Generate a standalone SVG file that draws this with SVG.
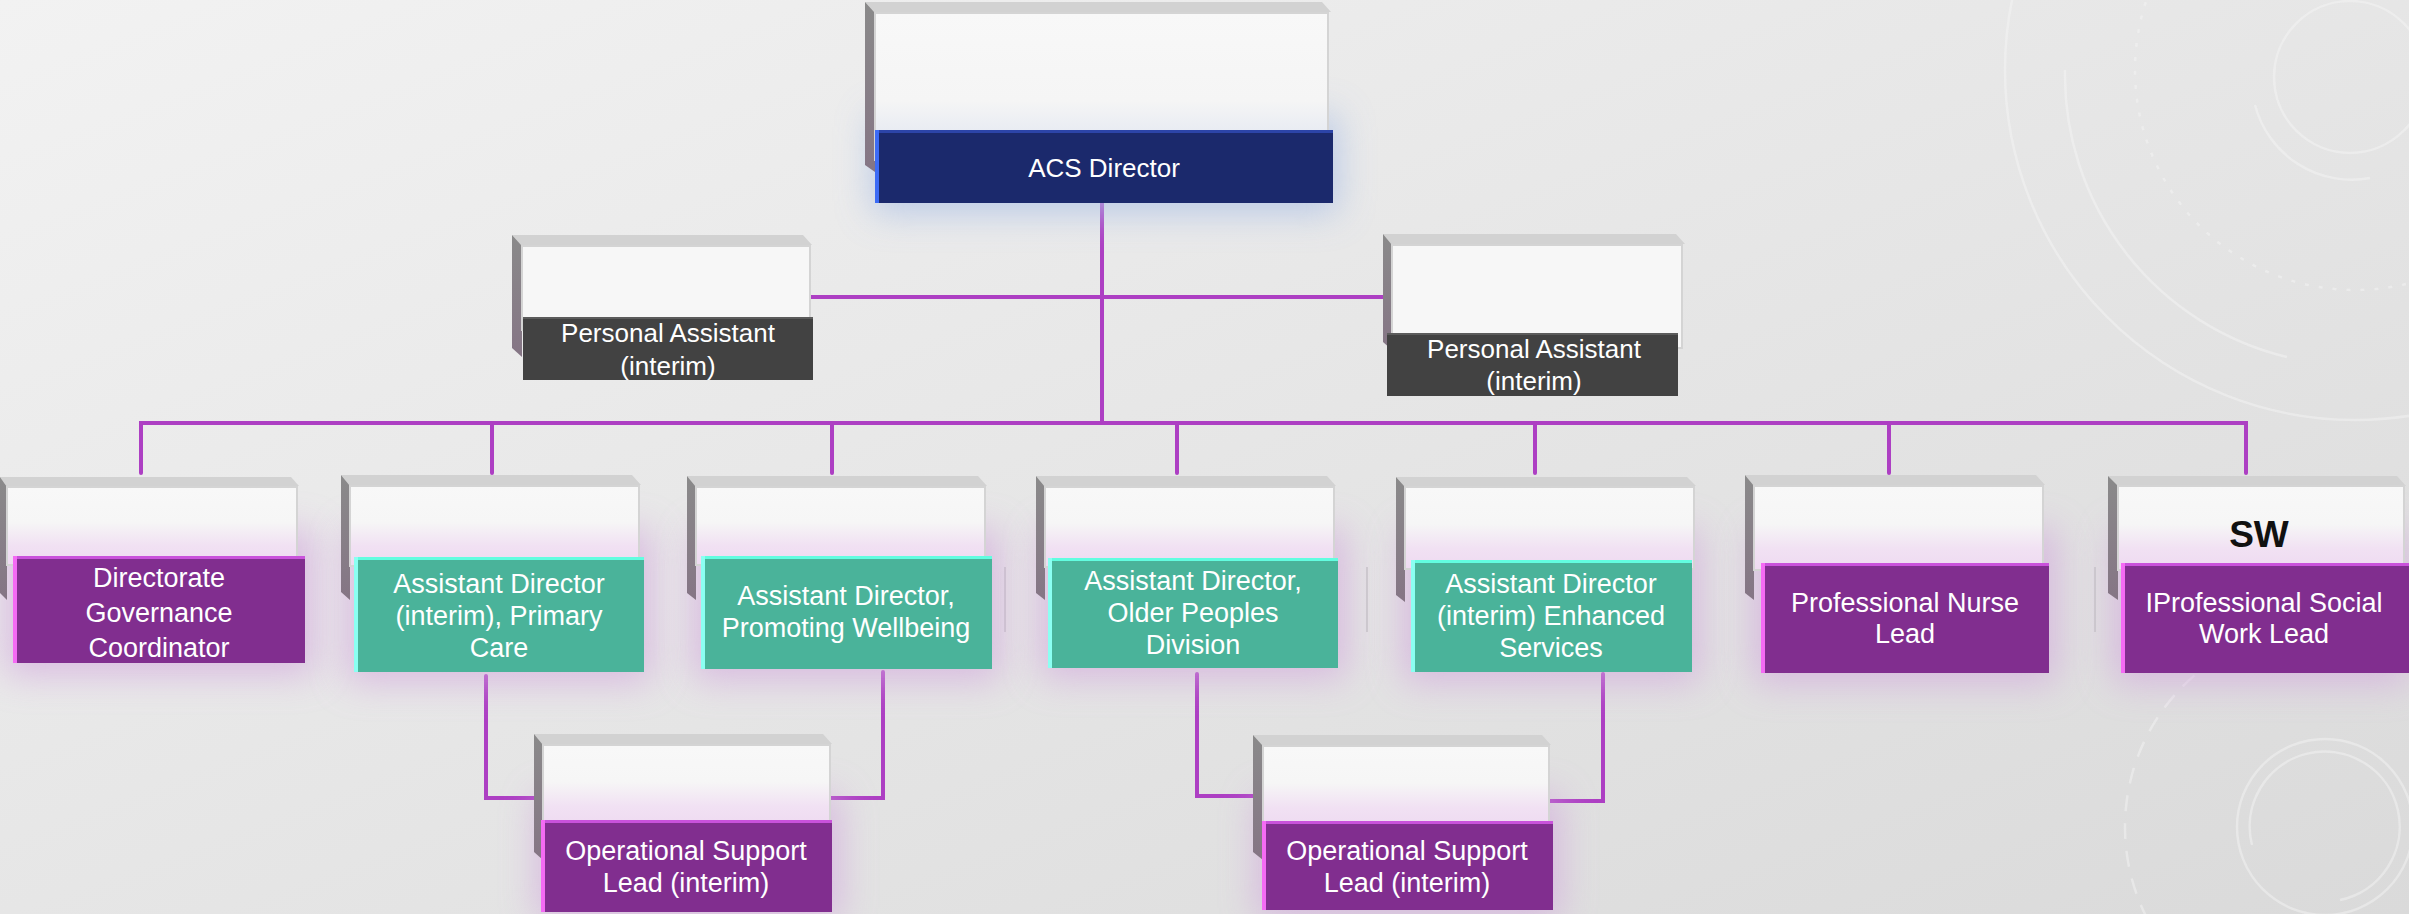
<svg xmlns="http://www.w3.org/2000/svg" width="2409" height="914" viewBox="0 0 2409 914">
<style>
.top{fill:#D2D2D2}
.side{fill:url(#sideG)}
.face{fill:url(#faceP);stroke:#D4D4D4;stroke-width:2}
.faceB{fill:url(#faceB);stroke:#D4D4D4;stroke-width:2}
.faceW{fill:#F7F7F7;stroke:#D4D4D4;stroke-width:2}
.purple{fill:#812E8F}
.teal{fill:#4AB39A}
.navy{fill:#1B296C}
.dark{fill:#424242}
.eP{fill:#C952DB}
.lP{fill:#F46BF4}
.eT{fill:#62FDE0}
.lT{fill:#8BFFF2}
.eN{fill:#2C44A8}
.lN{fill:#3C6BF5}
.eD{fill:#5C5C5C}
.glowP{fill:#D3A8DE;opacity:.7;filter:url(#blur)}
.glowB{fill:#AFC2E6;opacity:.8;filter:url(#blur)}
.t{font-family:"Liberation Sans",Arial,sans-serif;font-size:27px;fill:#FFFFFF;text-anchor:middle}
.t26{font-size:26px}
.con{fill:none;stroke:#AD3FC3;stroke-width:4;stroke-linejoin:miter;stroke-linecap:round}
.deco{fill:none;stroke:#F6F6F6;stroke-width:2.5;opacity:.45}
.ghost{stroke:#CBCBCB;stroke-width:2}
</style>
<defs>
<linearGradient id="bg" x1="0" y1="0" x2="1" y2="1">
<stop offset="0" stop-color="#F2F2F2"/>
<stop offset="1" stop-color="#DADADA"/>
</linearGradient>
<linearGradient id="sideG" x1="0" y1="0" x2="0" y2="1">
<stop offset="0" stop-color="#8A8A8A"/>
<stop offset="1" stop-color="#857585"/>
</linearGradient>
<linearGradient id="faceP" x1="0" y1="0" x2="0" y2="1">
<stop offset="0" stop-color="#F8F8F8"/>
<stop offset="0.45" stop-color="#F6F6F6"/>
<stop offset="0.75" stop-color="#F1E1F3"/>
<stop offset="1" stop-color="#EEDAF1"/>
</linearGradient>
<linearGradient id="faceB" x1="0" y1="0" x2="0" y2="1">
<stop offset="0" stop-color="#F8F8F8"/>
<stop offset="0.6" stop-color="#F5F5F5"/>
<stop offset="1" stop-color="#DCE3F0"/>
</linearGradient>
<filter id="blur" x="-25%" y="-50%" width="150%" height="200%">
<feGaussianBlur stdDeviation="18"/>
</filter>
</defs>

<rect x="0" y="0" width="2409" height="914" fill="url(#bg)"/>

<g id="decoration">
<circle class="deco" cx="2355" cy="70" r="350"/>
<path class="deco" d="M2065 70 A290 290 0 0 0 2287 357"/>
<circle class="deco" cx="2355" cy="70" r="220" stroke-dasharray="4 10"/>
<circle class="deco" cx="2350" cy="77" r="76"/>
<path class="deco" d="M2255 105 A100 100 0 0 0 2370 178"/>
<circle class="deco" cx="2325" cy="827" r="88"/>
<path class="deco" d="M2252 845 A75 75 0 1 1 2340 900"/>
<circle class="deco" cx="2325" cy="827" r="200" stroke-dasharray="16 12"/>
<line class="ghost" x1="1005" y1="567" x2="1005" y2="632"/>
<line class="ghost" x1="1367" y1="567" x2="1367" y2="632"/>
<line class="ghost" x1="2095" y1="567" x2="2095" y2="632"/>
</g>

<g id="connectors">
<path class="con" d="M1102 203 V423"/>
<path class="con" d="M810 297 H1390"/>
<path class="con" d="M141 473 V423 H2246 V473"/>
<path class="con" d="M492 423 V473 M832 423 V473 M1177 423 V473 M1535 423 V473 M1889 423 V473"/>
<path class="con" d="M486 676 V798 H545"/>
<path class="con" d="M883 672 V798 H830"/>
<path class="con" d="M1197 674 V796 H1257"/>
<path class="con" d="M1603 674 V801 H1549"/>
</g>

<g id="acs-director">
<rect class="glowB" x="872" y="115" width="466" height="98"/>
<polygon class="top" points="865,2 1322,2 1331,12 875,13"/>
<polygon class="side" points="865,2 875,13 875,172 865,165"/>
<rect class="faceB" x="875" y="13" width="453" height="147"/>
<rect class="navy" x="875" y="130" width="458" height="73"/>
<rect class="eN" x="875" y="130" width="458" height="3"/>
<rect class="lN" x="875" y="130" width="4" height="73"/>
<text class="t t26" x="1104" y="177">ACS Director</text>
</g>

<g id="pa-left">
<polygon class="top" points="512,235 803,235 812,245 522,246"/>
<polygon class="side" points="512,235 522,246 522,357 512,348"/>
<rect class="faceW" x="522" y="246" width="288" height="84"/>
<rect class="dark" x="523" y="317" width="290" height="63"/>
<rect class="eD" x="523" y="317" width="290" height="2"/>
<text class="t t26" x="668" y="342">Personal Assistant</text>
<text class="t t26" x="668" y="375">(interim)</text>
</g>

<g id="pa-right">
<polygon class="top" points="1383,234 1676,234 1685,244 1392,245"/>
<polygon class="side" points="1383,234 1392,245 1392,350 1383,342"/>
<rect class="faceW" x="1392" y="245" width="290" height="103"/>
<rect class="dark" x="1387" y="333" width="291" height="63"/>
<rect class="eD" x="1387" y="333" width="291" height="2"/>
<text class="t t26" x="1534" y="358">Personal Assistant</text>
<text class="t t26" x="1534" y="390">(interim)</text>
</g>

<g id="directorate-governance">
<rect class="glowP" x="5" y="530" width="310" height="145"/>
<polygon class="top" points="0,477 291,477 299,486 7,487"/>
<polygon class="side" points="0,477 7,487 7,600 0,593"/>
<rect class="face" x="7" y="487" width="290" height="78"/>
<rect class="purple" x="13" y="556" width="292" height="107"/>
<rect class="eP" x="13" y="556" width="292" height="3"/>
<rect class="lP" x="13" y="556" width="4" height="107"/>
<text class="t" x="159" y="587">Directorate</text>
<text class="t" x="159" y="622">Governance</text>
<text class="t" x="159" y="657">Coordinator</text>
</g>

<g id="ad-primary-care">
<rect class="glowP" x="346" y="530" width="306" height="152"/>
<polygon class="top" points="341,475 632,475 641,485 350,486"/>
<polygon class="side" points="341,475 350,486 350,600 341,592"/>
<rect class="face" x="350" y="486" width="289" height="80"/>
<rect class="teal" x="354" y="557" width="290" height="115"/>
<rect class="eT" x="354" y="557" width="290" height="3"/>
<rect class="lT" x="354" y="557" width="4" height="115"/>
<text class="t" x="499" y="593">Assistant Director</text>
<text class="t" x="499" y="625">(interim), Primary</text>
<text class="t" x="499" y="657">Care</text>
</g>

<g id="ad-promoting-wellbeing">
<rect class="glowP" x="693" y="530" width="307" height="150"/>
<polygon class="top" points="687,476 978,476 987,486 696,487"/>
<polygon class="side" points="687,476 696,487 696,600 687,593"/>
<rect class="face" x="696" y="487" width="289" height="78"/>
<rect class="teal" x="701" y="556" width="291" height="113"/>
<rect class="eT" x="701" y="556" width="291" height="3"/>
<rect class="lT" x="701" y="556" width="4" height="113"/>
<text class="t" x="846" y="605">Assistant Director,</text>
<text class="t" x="846" y="637">Promoting Wellbeing</text>
</g>

<g id="ad-older-peoples">
<rect class="glowP" x="1040" y="530" width="306" height="148"/>
<polygon class="top" points="1036,476 1327,476 1336,486 1045,487"/>
<polygon class="side" points="1036,476 1045,487 1045,600 1036,593"/>
<rect class="face" x="1045" y="487" width="289" height="80"/>
<rect class="teal" x="1048" y="558" width="290" height="110"/>
<rect class="eT" x="1048" y="558" width="290" height="3"/>
<rect class="lT" x="1048" y="558" width="4" height="110"/>
<text class="t" x="1193" y="590">Assistant Director,</text>
<text class="t" x="1193" y="622">Older Peoples</text>
<text class="t" x="1193" y="654">Division</text>
</g>

<g id="ad-enhanced-services">
<rect class="glowP" x="1403" y="530" width="297" height="152"/>
<polygon class="top" points="1396,477 1687,477 1696,486 1405,487"/>
<polygon class="side" points="1396,477 1405,487 1405,602 1396,595"/>
<rect class="face" x="1405" y="487" width="289" height="82"/>
<rect class="teal" x="1411" y="560" width="281" height="112"/>
<rect class="eT" x="1411" y="560" width="281" height="3"/>
<rect class="lT" x="1411" y="560" width="4" height="112"/>
<text class="t" x="1551" y="593">Assistant Director</text>
<text class="t" x="1551" y="625">(interim) Enhanced</text>
<text class="t" x="1551" y="657">Services</text>
</g>

<g id="professional-nurse-lead">
<rect class="glowP" x="1753" y="530" width="304" height="153"/>
<polygon class="top" points="1745,475 2036,475 2045,485 1754,486"/>
<polygon class="side" points="1745,475 1754,486 1754,600 1745,593"/>
<rect class="face" x="1754" y="486" width="289" height="84"/>
<rect class="purple" x="1761" y="563" width="288" height="110"/>
<rect class="eP" x="1761" y="563" width="288" height="3"/>
<rect class="lP" x="1761" y="563" width="4" height="110"/>
<text class="t" x="1905" y="612">Professional Nurse</text>
<text class="t" x="1905" y="643">Lead</text>
</g>

<g id="professional-social-work-lead">
<rect class="glowP" x="2113" y="530" width="296" height="153"/>
<polygon class="top" points="2108,476 2397,476 2406,486 2118,486"/>
<polygon class="side" points="2108,476 2118,486 2118,600 2108,593"/>
<rect class="face" x="2118" y="486" width="286" height="84"/>
<text x="2259" y="547" style="font-family:'Liberation Sans',Arial,sans-serif;font-size:37px;font-weight:bold;fill:#111111;text-anchor:middle">SW</text>
<rect class="purple" x="2121" y="563" width="288" height="110"/>
<rect class="eP" x="2121" y="563" width="288" height="3"/>
<rect class="lP" x="2121" y="563" width="4" height="110"/>
<text class="t" x="2264" y="612">IProfessional Social</text>
<text class="t" x="2264" y="643">Work Lead</text>
</g>

<g id="operational-support-lead-1">
<rect class="glowP" x="537" y="795" width="303" height="125"/>
<polygon class="top" points="534,734 823,734 832,744 543,745"/>
<polygon class="side" points="534,734 543,745 543,860 534,852"/>
<rect class="face" x="543" y="745" width="287" height="82"/>
<rect class="purple" x="541" y="820" width="291" height="92"/>
<rect class="eP" x="541" y="820" width="291" height="3"/>
<rect class="lP" x="541" y="820" width="4" height="92"/>
<text class="t" x="686" y="860">Operational Support</text>
<text class="t" x="686" y="892">Lead (interim)</text>
</g>

<g id="operational-support-lead-2">
<rect class="glowP" x="1257" y="795" width="303" height="125"/>
<polygon class="top" points="1253,735 1542,735 1551,745 1263,746"/>
<polygon class="side" points="1253,735 1263,746 1263,860 1253,852"/>
<rect class="face" x="1263" y="746" width="286" height="82"/>
<rect class="purple" x="1262" y="821" width="291" height="89"/>
<rect class="eP" x="1262" y="821" width="291" height="3"/>
<rect class="lP" x="1262" y="821" width="4" height="89"/>
<text class="t" x="1407" y="860">Operational Support</text>
<text class="t" x="1407" y="892">Lead (interim)</text>
</g>
</svg>
